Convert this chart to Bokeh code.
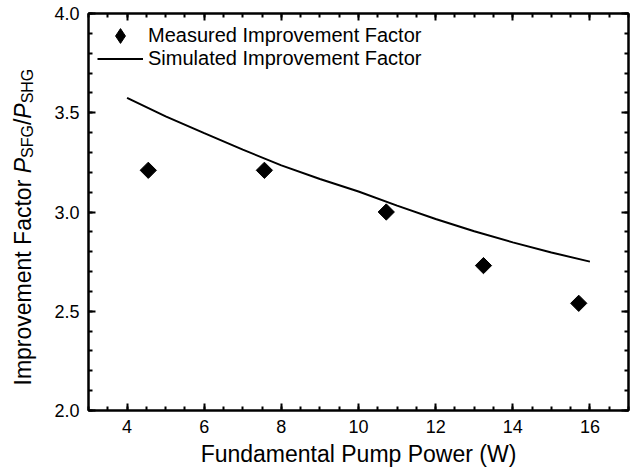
import math
from bokeh.plotting import figure
from bokeh.layouts import row
from bokeh.models import (Range1d, LinearAxis, SingleIntervalTicker, NumeralTickFormatter,
                          CustomJSTickFormatter, Label, Legend, LegendItem)
from bokeh.embed import file_html
from bokeh.resources import INLINE

# ---- data ----
measured_power = [4.55, 7.56, 10.72, 13.24, 15.71]
measured_factor = [3.21, 3.21, 3.00, 2.73, 2.54]

sim_power = [4, 5, 6, 7, 8, 9, 10, 11, 12, 13, 14, 15, 16]
sim_factor = [3.575, 3.482, 3.397, 3.314, 3.235, 3.166, 3.103, 3.032, 2.965, 2.903, 2.847, 2.796, 2.750]

x_label = "Fundamental Pump Power (W)"
legend_measured = "Measured Improvement Factor"
legend_simulated = "Simulated Improvement Factor"

FONT = "Liberation Sans"
TOTAL_H = 472
LEFT_W = 45
TOP_B = 13
BOTTOM_B = 62
FRAME_H = TOTAL_H - TOP_B - BOTTOM_B

p = figure(width=636 - LEFT_W, height=TOTAL_H, output_backend="svg", toolbar_location=None,
           x_range=Range1d(3, 17), y_range=Range1d(2, 4),
           min_border_left=88 - LEFT_W, min_border_right=8, min_border_top=TOP_B,
           min_border_bottom=BOTTOM_B)
p.grid.visible = False
p.background_fill_color = "white"
p.border_fill_color = "white"
p.outline_line_color = "black"
p.outline_line_width = 2


def style_axis(ax, show_labels):
    ax.axis_line_width = 2
    ax.axis_line_color = "black"
    ax.major_tick_in = 7
    ax.major_tick_out = 0
    ax.minor_tick_in = 4
    ax.minor_tick_out = 0
    ax.major_tick_line_width = 2
    ax.minor_tick_line_width = 2
    ax.major_tick_line_color = "black"
    ax.minor_tick_line_color = "black"
    if show_labels:
        ax.major_label_text_font = FONT
        ax.major_label_text_font_size = "18px"
        ax.major_label_text_color = "black"
        ax.major_label_standoff = 9
    else:
        ax.formatter = CustomJSTickFormatter(code="return ''")
        ax.major_label_standoff = 0


xb = p.xaxis[0]
xb.ticker = SingleIntervalTicker(interval=2, num_minor_ticks=4)
style_axis(xb, True)
xb.axis_label = x_label
xb.axis_label_text_font = FONT
xb.axis_label_text_font_size = "23px"
xb.axis_label_text_font_style = "normal"
xb.axis_label_text_color = "black"
xb.axis_label_standoff = 5

yl = p.yaxis[0]
yl.ticker = SingleIntervalTicker(interval=0.5, num_minor_ticks=5)
yl.formatter = NumeralTickFormatter(format="0.0")
style_axis(yl, True)

xt = LinearAxis(ticker=SingleIntervalTicker(interval=2, num_minor_ticks=4))
style_axis(xt, False)
p.add_layout(xt, "above")

yr = LinearAxis(ticker=SingleIntervalTicker(interval=0.5, num_minor_ticks=5))
style_axis(yr, False)
p.add_layout(yr, "right")

# ---- glyphs ----
# diamond-shaped copy of the measured points (hidden under the rotated squares);
# it serves as the legend key, since legend keys ignore a marker's angle
meas_key = p.scatter(measured_power, measured_factor, marker="diamond",
                     fill_color="black", line_color="black", size=10)
sim = p.line(sim_power, sim_factor, line_color="black", line_width=2)
meas = p.scatter(measured_power, measured_factor, marker="square", angle=math.pi / 4,
                 size=11.5, fill_color="black", line_color="black")

legend_common = dict(padding=0, margin=0, spacing=0, glyph_width=46, label_height=23,
                     label_standoff=5, label_text_font=FONT, label_text_font_size="20px",
                     label_text_color="black", border_line_color=None,
                     background_fill_alpha=0)
legend1 = Legend(items=[LegendItem(label=legend_measured, renderers=[meas_key])],
                 location=(9, 356), glyph_height=37, **legend_common)
legend2 = Legend(items=[LegendItem(label=legend_simulated, renderers=[sim])],
                 location=(9, 340), glyph_height=23, **legend_common)
p.add_layout(legend1)
p.add_layout(legend2)

# ---- y-axis title with italic P and subscripts, in a narrow side figure ----
t = figure(width=LEFT_W, height=TOTAL_H, output_backend="svg", toolbar_location=None,
           x_range=Range1d(0, LEFT_W), y_range=Range1d(0, FRAME_H),
           min_border_left=0, min_border_right=0, min_border_top=TOP_B,
           min_border_bottom=BOTTOM_B, x_axis_location=None, y_axis_location=None)
t.grid.visible = False
t.outline_line_color = None
t.background_fill_color = "white"
t.border_fill_color = "white"

# Arial / Liberation Sans advance widths (per 1000 em)
W = {"I": 278, "m": 833, "p": 556, "r": 333, "o": 556, "v": 500, "e": 556, "n": 556,
     "t": 278, " ": 278, "F": 611, "a": 556, "c": 500, "P": 667, "S": 667, "G": 778,
     "H": 722, "/": 278}


def tw(s, size):
    return sum(W[c] for c in s) * size / 1000.0


main_size = 23
sub_size = 16
pieces = [("Improvement Factor ", main_size, "normal", 0),
          ("P", main_size, "italic", 0),
          ("SFG", sub_size, "normal", 5),
          ("/", main_size, "normal", 0),
          ("P", main_size, "italic", 0),
          ("SHG", sub_size, "normal", 5)]
base_x = 22
pos = (TOTAL_H - BOTTOM_B) - 385
for txt, size, style, shift in pieces:
    t.add_layout(Label(x=base_x + shift, y=pos, text=txt, angle=math.pi / 2,
                       text_font=FONT, text_font_size=f"{size}px", text_font_style=style,
                       text_color="black", text_align="left", text_baseline="alphabetic"))
    pos += tw(txt, size)

layout = row(t, p)
open("out.html", "w").write(file_html(layout, INLINE))
